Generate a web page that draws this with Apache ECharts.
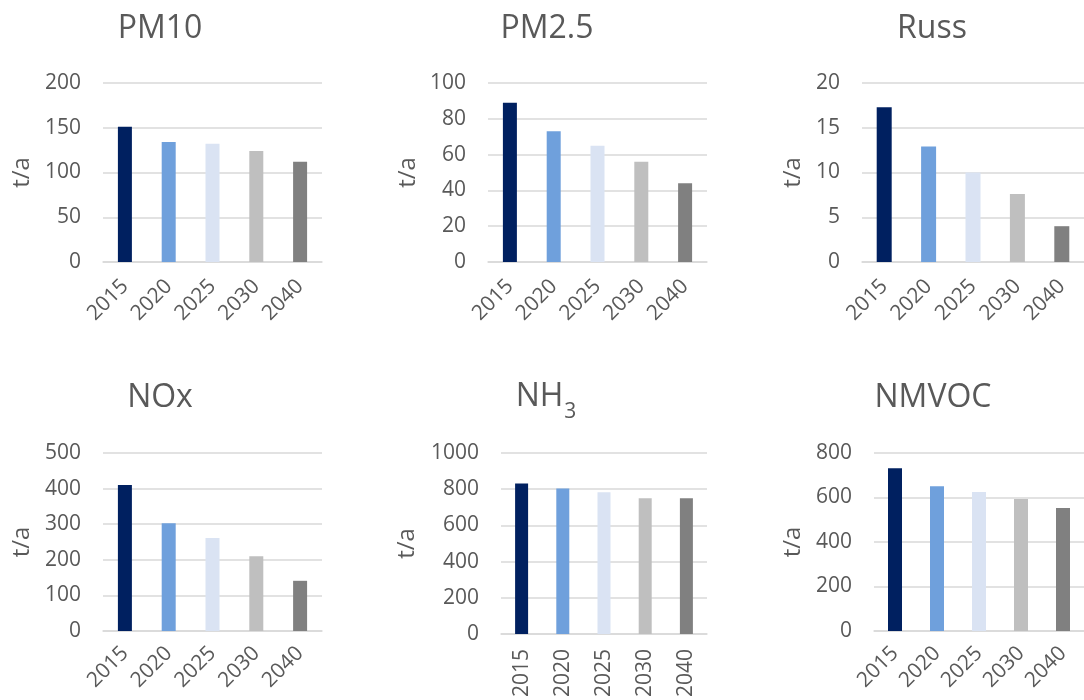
<!DOCTYPE html>
<html><head><meta charset="utf-8">
<script src="https://cdn.jsdelivr.net/npm/echarts@6/dist/echarts.min.js"></script>
<style>html,body{margin:0;padding:0;background:#fff}#c{width:1084px;height:700px}</style>
</head><body><div id="c"></div>
<script>
// ---- data ----
const years = ['2015', '2020', '2025', '2030', '2040'];
const pm10 = [151, 134, 132, 124, 112];
const pm25 = [89, 73, 65, 56, 44];
const russ = [17.3, 12.9, 10.0, 7.6, 4.0];
const nox = [410, 303, 261, 210, 141];
const nh3 = [831, 804, 783, 750, 750];
const nmvoc = [732, 651, 625, 593, 553];
const panelTitles = ['PM10', 'PM2.5', 'Russ', 'NOx', '{a|NH}{b|3}', 'NMVOC'];
const yMax = [200, 100, 20, 500, 1000, 800];
const yStep = [50, 20, 5, 100, 200, 200];
const unitLabel = 't/a';

// ---- style / layout ----
const barColors = ['#002060', '#6FA0DC', '#DAE3F3', '#BFBFBF', '#808080'];
const seriesData = [pm10, pm25, russ, nox, nh3, nmvoc];
const layout = [
  {left: 103, top: 83, width: 219, height: 179, tx: 160, ty: 13, gap: 69, rot: 45, bw: 14, lm: 21},
  {left: 488, top: 83, width: 219, height: 179, tx: 547, ty: 13, gap: 68, rot: 45, bw: 14, lm: 21},
  {left: 862, top: 83, width: 233, height: 179, tx: 932, ty: 13, gap: 57, rot: 45, bw: 15, lm: 21},
  {left: 103, top: 453, width: 219, height: 178, tx: 160, ty: 382, gap: 69, rot: 45, bw: 14, lm: 19},
  {left: 501, top: 453, width: 206, height: 184, tx: 546, ty: 381, gap: 82, rot: 90, bw: 13, lm: 15},
  {left: 874, top: 453, width: 220, height: 178, tx: 933, ty: 382, gap: 69, rot: 45, bw: 14, lm: 19}
];
const txt = '#595959';
const font = 'Open Sans';

const option = {
  backgroundColor: '#fff',
  animation: false,
  textStyle: {fontFamily: font},
  title: [], grid: [], xAxis: [], yAxis: [], series: []
};

layout.forEach((L, i) => {
  option.title.push({
    text: panelTitles[i], left: L.tx, top: L.ty, textAlign: 'center', padding: 0,
    textStyle: {
      fontFamily: font, fontSize: 32, fontWeight: 'normal', color: txt,
      rich: {
        a: {fontFamily: font, fontSize: 32, color: txt, lineHeight: 36, verticalAlign: 'top'},
        b: {fontFamily: font, fontSize: 21, color: txt, lineHeight: 21, verticalAlign: 'top', padding: [21, 0, 0, 1]}
      }
    }
  });
  option.grid.push({left: L.left, top: L.top, width: L.width, height: L.height, containLabel: false});
  option.xAxis.push({
    type: 'category', gridIndex: i, data: years,
    axisLine: {show: true, lineStyle: {color: '#D9D9D9', width: 1.5}},
    axisTick: {show: false},
    axisLabel: {rotate: L.rot, color: txt, fontSize: 21, fontFamily: font, margin: L.lm, interval: 0}
  });
  option.yAxis.push({
    type: 'value', gridIndex: i, min: 0, max: yMax[i], interval: yStep[i],
    name: unitLabel, nameLocation: 'middle', nameRotate: 90, nameGap: L.gap,
    nameTextStyle: {color: txt, fontSize: 24, fontFamily: font},
    axisLine: {show: false}, axisTick: {show: false},
    axisLabel: {color: txt, fontSize: 21, fontFamily: font, margin: 22, formatter: v => String(v)},
    splitLine: {lineStyle: {color: '#D9D9D9', width: 1.5}}
  });
  option.series.push({
    type: 'bar', xAxisIndex: i, yAxisIndex: i, barWidth: L.bw,
    data: seriesData[i].map((v, k) => ({value: v, itemStyle: {color: barColors[k]}}))
  });
});

const chart = echarts.init(document.getElementById('c'), null, {renderer: 'canvas'});
chart.setOption(option);
</script>
</body></html>
